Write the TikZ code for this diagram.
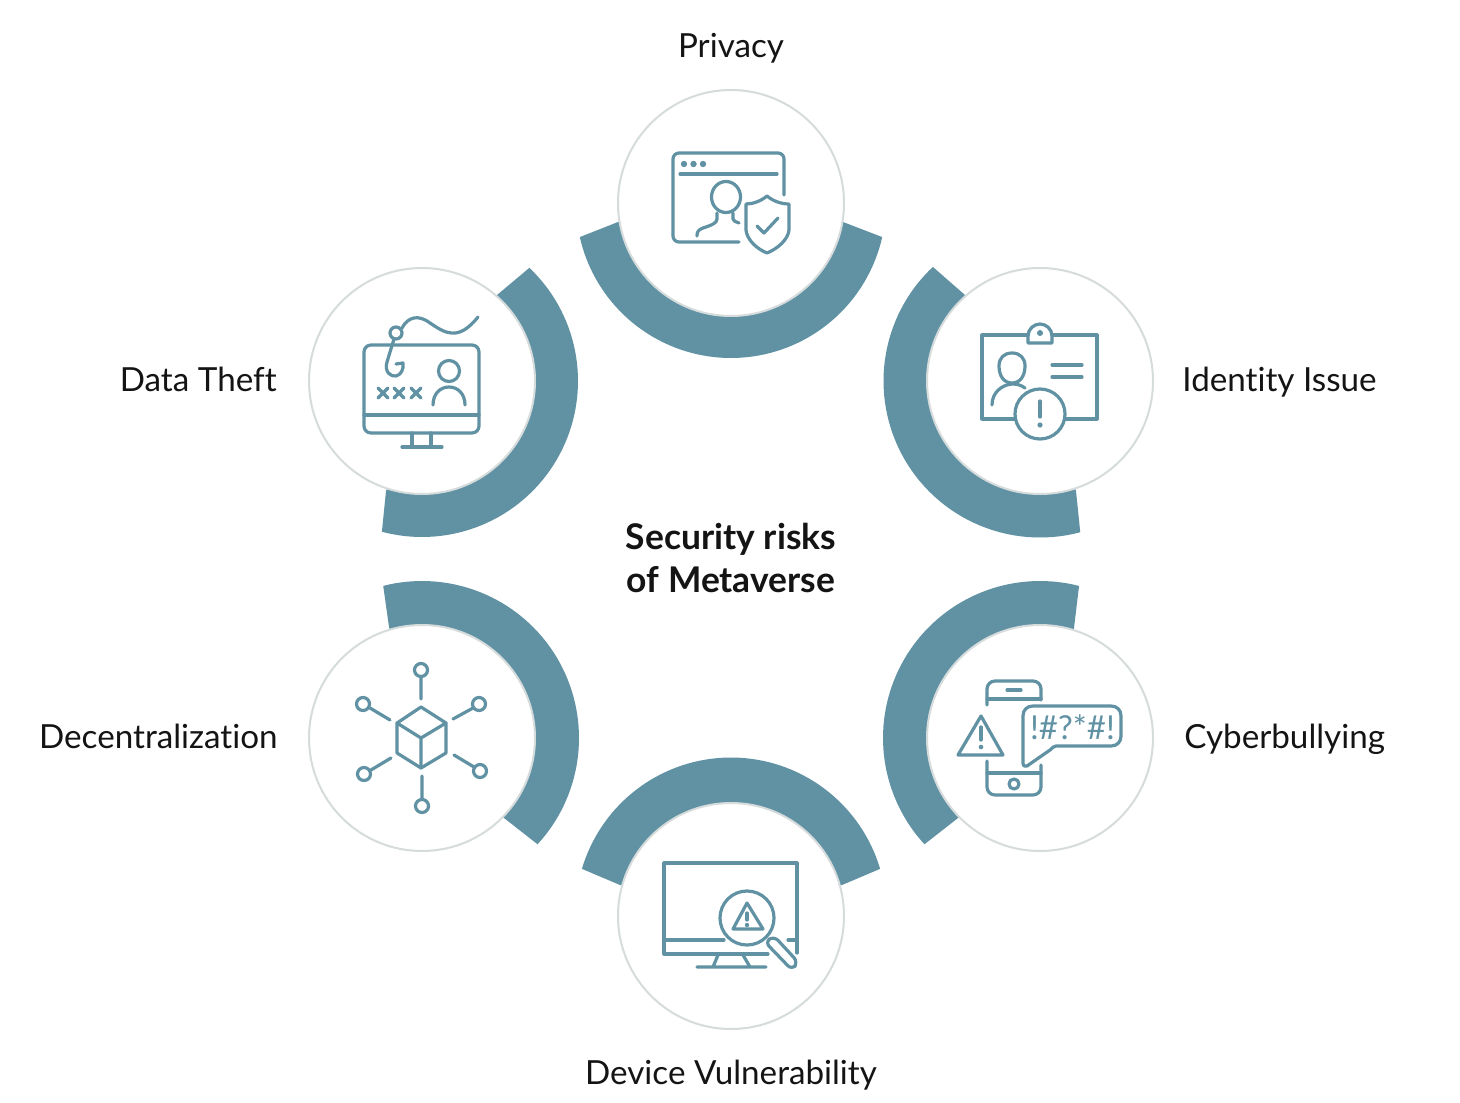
\documentclass[tikz,border=0pt]{standalone}
\usepackage{fontspec}
\setmainfont[Ligatures=NoCommon]{Lato}
\definecolor{teal1}{HTML}{6092A4}
\definecolor{ring}{HTML}{D6DBDC}
\definecolor{ink}{HTML}{141414}
\newcommand{\band}[8]{% cx cy R a0 a1 inner-a inner-b name
  \fill[teal1] plot[domain=#4:#5,samples=70,variable=\t] ({#1+#3*cos(\t)},{#2+#3*sin(\t)}) -- #6 -- (#1,#2) -- #7 -- cycle;
  \node[disc] (#8) at (#1,#2) {};
}
\tikzset{
  disc/.style={circle,draw=ring,line width=1pt,fill=white,minimum size=113pt,inner sep=0pt},
  icon/.style={draw=teal1,line width=1.6pt,line cap=round,line join=round},
  dotfill/.style={fill=teal1,draw=none},
  lab/.style={font=\fontsize{16.6}{19}\selectfont,text=ink,inner sep=0pt},
  title/.style={font=\fontsize{17.7}{21.5}\selectfont\bfseries,text=ink,align=center,inner sep=0pt}
}
\begin{document}
\begin{tikzpicture}[x=0.5pt,y=-0.5pt]
\useasboundingbox (0,0) rectangle (1460,1102);
\fill[white] (0,0) rectangle (1460,1102);

% bands and discs
\band{731}{203}{155}{12.7}{167.3}{(618,222)}{(843,222)}{privacy}
\band{1040}{381}{156.5}{75.1}{226.8}{(965,295)}{(1076,491)}{identity}
\band{422}{381}{156}{-46.5}{104.9}{(386,491)}{(497,295)}{theft}
\band{1040}{738}{157}{137.4}{284.4}{(1074,628)}{(958,818)}{bully}
\band{422}{738}{157}{-104.3}{42.6}{(504,818)}{(389,627)}{decent}
\fill[teal1] plot[domain=196.5:343.5,samples=70,variable=\t] ({731+155.5*cos(\t)},{913+155.5*sin(\t)}) -- (842,885) -- (731,916) -- (620,885) -- cycle;
\node[disc] (device) at (731,916) {};

% labels
\node[lab,anchor=base] (lprivacy) at (731,58) {Privacy};
\node[lab,anchor=base east] (ltheft) at (277,391) {Data Theft};
\node[lab,anchor=base west] (lidentity) at (1182,391) {Identity Issue};
\node[lab,anchor=base east] (ldecent) at (278,748) {Decentralization};
\node[lab,anchor=base west] (lbully) at (1184,748) {Cyberbullying};
\node[lab,anchor=base] (ldevice) at (731,1084) {Device Vulnerability};
\node[title] (centre) at (731,557.5) {Security risks\\of Metaverse};

% privacy icon
\draw[icon,rounded corners=3pt] (784,195) -- (784,153) -- (673,153) -- (673,242) -- (739,242);
\draw[icon] (680,174) -- (777,174);
\fill[dotfill] (684,164) circle (3.2) (693.5,164) circle (3.2) (703,164) circle (3.2);
\draw[icon] (726,197) ellipse [x radius=14.5,y radius=15.5];
\draw[icon] (717,213) -- (717,219) .. controls (717,223) and (712,225) .. (703,228) .. controls (698,230) and (697,232) .. (697,236);
\draw[icon] (733,213) -- (733,219) .. controls (733,221) and (736,222) .. (739,223);
\draw[icon] (767,196) .. controls (761,201) and (753,204) .. (746,204) -- (746,230) .. controls (747,240) and (757,249) .. (767,253) .. controls (777,249) and (788,240) .. (789,230) -- (789,204) .. controls (781,204) and (773,201) .. (767,196) -- cycle;
\draw[icon] (757,226) -- (764,233) -- (778,218);

% data theft icon
\draw[icon,rounded corners=3.5pt] (364,345) rectangle (479,433);
\draw[icon] (364,415) -- (479,415);
\draw[icon] (412,433) -- (412,446) (431,433) -- (431,446) (402,447) -- (442,447);
\draw[icon] (396,333) circle (6);
\draw[icon] (394,339) -- (387,362) .. controls (384,372) and (391,377) .. (396,376) .. controls (401,375) and (404,369) .. (403,363) -- (396,364);
\draw[icon] (402,328) .. controls (408,317) and (418,314) .. (430,323) .. controls (445,333) and (458,342) .. (478,317);
\draw[icon] (378,388) -- (388,398) (388,388) -- (378,398) (394,388) -- (404,398) (404,388) -- (394,398) (411,388) -- (421,398) (421,388) -- (411,398);
\draw[icon] (449,371) circle (10.5);
\draw[icon] (433,405) .. controls (433,394) and (440,387) .. (449,387) .. controls (458,387) and (465,394) .. (465,405);

% identity icon
\draw[icon] (1028,335) -- (982,335) -- (982,419) -- (1015,419);
\draw[icon] (1052,335) -- (1097,335) -- (1097,419) -- (1065,419);
\draw[icon] (1028,343) -- (1052,343) -- (1052,336) .. controls (1052,329) and (1046,324) .. (1040,324) .. controls (1034,324) and (1028,329) .. (1028,336) -- cycle;
\fill[dotfill] (1040,333) circle (3);
\draw[icon] (1012,353) .. controls (1020,353) and (1025,358) .. (1025,366) .. controls (1025,376) and (1020,383) .. (1012,383) .. controls (1004,383) and (999,376) .. (999,366) .. controls (999,358) and (1004,353) .. (1012,353) -- cycle;
\draw[icon] (992,405) .. controls (992,393) and (1001,385) .. (1012,384) .. controls (1017,384) and (1021,385) .. (1025,388);
\draw[icon] (1052,365) -- (1082,365) (1052,377) -- (1082,377);
\draw[icon] (1040,414) circle (25);
\draw[icon] (1040,401) -- (1040,417);
\fill[dotfill] (1040,425) circle (2.6);

% cyberbullying icon
\draw[icon,rounded corners=4pt] (987,705) -- (987,681) -- (1041,681) -- (1041,700);
\draw[icon] (987,699) -- (1041,699);
\draw[icon] (1007,690) -- (1021,690);
\draw[icon,rounded corners=4pt] (987,761) -- (987,795) -- (1041,795) -- (1041,765);
\draw[icon] (987,773) -- (1041,773);
\draw[icon] (1014,784) circle (5);
\draw[icon] (981,716) -- (958,755) -- (1003,755) -- cycle;
\draw[icon] (981,727) -- (981,740);
\fill[dotfill] (981,747) circle (2.3);
\draw[icon] (1056,746) -- (1111,746) .. controls (1117,746) and (1121,742) .. (1121,736) -- (1121,716) .. controls (1121,710) and (1117,706) .. (1111,706) -- (1033,706) .. controls (1027,706) and (1023,710) .. (1023,716) -- (1023,763) .. controls (1023,766) and (1025,767) .. (1027,766) -- (1050,750) .. controls (1052,748) and (1054,746) .. (1056,746) -- cycle;
\node[inner sep=0pt,text=teal1,font=\fontsize{16.5}{16.5}\selectfont] (abuse) at (1072.5,727) {!\#?*\#!};

% device icon
\draw[icon] (797,953) -- (797,863) -- (664,863) -- (664,954) -- (768,954);
\draw[icon] (664,940) -- (724,940) (788,940) -- (797,940);
\draw[icon] (718,955) -- (713,967) (743,955) -- (750,967) (697,967) -- (766,967);
\draw[icon] (747,918) circle (27);
\draw[icon] (747,903) -- (733,929) -- (763,929) -- cycle;
\draw[icon] (747,913) -- (747,920);
\fill[dotfill] (747,925) circle (2.2);
\draw[icon,rounded corners=3pt] (765,942) -- (774,936) -- (798,962) -- (792,970) -- cycle;

% decentralization icon
\draw[icon] (421,707) -- (446,723) -- (446,753) -- (421,768) -- (397,753) -- (397,723) -- cycle;
\draw[icon] (397,723) -- (421,738) -- (446,723) (421,738) -- (421,768);
\draw[icon] (421,670) circle (6.5) (422,806) circle (6.5) (363,704) circle (6.5) (479,704) circle (6.5) (364,774) circle (6.5) (480,771) circle (6.5);
\draw[icon] (421,677) -- (421,699) (422,776) -- (422,799) (370,708) -- (390,720) (453,719) -- (473,708) (371,770) -- (391,758) (454,755) -- (474,767);
\end{tikzpicture}
\end{document}
